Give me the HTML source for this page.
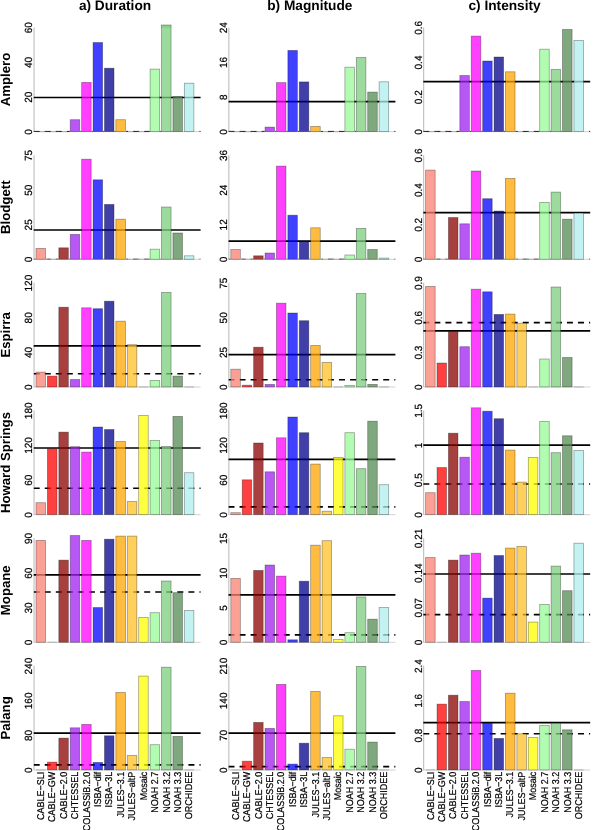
<!DOCTYPE html>
<html><head><meta charset="utf-8"><title>Figure</title>
<style>
html,body{margin:0;padding:0;background:#fff;}
body{width:602px;height:830px;position:relative;overflow:hidden;font-family:"Liberation Sans",sans-serif;}
svg text{font-family:"Liberation Sans",sans-serif;fill:#000;text-rendering:geometricPrecision;}
.t{font-size:9px;stroke:#000;stroke-width:0.2px;}
.y{font-size:10px;stroke:#000;stroke-width:0.2px;}
.r{font-size:13.2px;font-weight:bold;}
.h{font-size:13.7px;font-weight:bold;}
</style></head><body>
<svg width="602" height="830" viewBox="0 0 602 830" style="position:absolute;left:0;top:0;will-change:transform">
<rect width="602" height="830" fill="#fff"/>
<clipPath id="cp00"><rect x="33.55" y="7.50" width="167.55" height="124.55"/></clipPath>
<clipPath id="cp01"><rect x="228.35" y="7.50" width="167.55" height="124.55"/></clipPath>
<clipPath id="cp02"><rect x="423.15" y="7.50" width="167.55" height="124.55"/></clipPath>
<clipPath id="cp10"><rect x="33.55" y="135.17" width="167.55" height="124.55"/></clipPath>
<clipPath id="cp11"><rect x="228.35" y="135.17" width="167.55" height="124.55"/></clipPath>
<clipPath id="cp12"><rect x="423.15" y="135.17" width="167.55" height="124.55"/></clipPath>
<clipPath id="cp20"><rect x="33.55" y="262.84" width="167.55" height="124.55"/></clipPath>
<clipPath id="cp21"><rect x="228.35" y="262.84" width="167.55" height="124.55"/></clipPath>
<clipPath id="cp22"><rect x="423.15" y="262.84" width="167.55" height="124.55"/></clipPath>
<clipPath id="cp30"><rect x="33.55" y="390.51" width="167.55" height="124.55"/></clipPath>
<clipPath id="cp31"><rect x="228.35" y="390.51" width="167.55" height="124.55"/></clipPath>
<clipPath id="cp32"><rect x="423.15" y="390.51" width="167.55" height="124.55"/></clipPath>
<clipPath id="cp40"><rect x="33.55" y="518.18" width="167.55" height="124.55"/></clipPath>
<clipPath id="cp41"><rect x="228.35" y="518.18" width="167.55" height="124.55"/></clipPath>
<clipPath id="cp42"><rect x="423.15" y="518.18" width="167.55" height="124.55"/></clipPath>
<clipPath id="cp50"><rect x="33.55" y="645.85" width="167.55" height="124.55"/></clipPath>
<clipPath id="cp51"><rect x="228.35" y="645.85" width="167.55" height="124.55"/></clipPath>
<clipPath id="cp52"><rect x="423.15" y="645.85" width="167.55" height="124.55"/></clipPath>
<path d="M34.05 27.50V132.00" fill="none" stroke="#bebebe" stroke-width="1.1"/><path d="M34.05 131.65H200.60" fill="none" stroke="#c8c8c8" stroke-width="0.8"/><path d="M36.05 131.60h9.70M47.46 131.60h9.70M58.87 131.60h9.70M127.33 131.60h9.70M138.74 131.60h9.70" fill="none" stroke="#a8a8a8" stroke-width="0.9"/><line x1="33.75" x2="200.60" y1="97.50" y2="97.50" stroke="#000" stroke-width="1.7"/><path d="M33.70 131.40H39.70M44.75 131.40H50.75M55.80 131.40H61.80M66.85 131.40H69.88M80.38 131.40H81.29M91.79 131.40H92.70M103.20 131.40H104.11M114.61 131.40H115.52M126.02 131.40H128.10M133.15 131.40H139.15M144.20 131.40H149.75M160.25 131.40H161.16M171.66 131.40H172.30M199.45 131.40H200.60" stroke="#000" stroke-width="0.9" stroke-opacity="0.9" fill="none"/><rect x="70.23" y="119.70" width="9.55" height="11.90" fill="rgb(160,32,240)" fill-opacity="0.75" stroke="#000" stroke-opacity="0.36" stroke-width="0.8"/><rect x="81.64" y="82.40" width="9.55" height="49.20" fill="rgb(255,0,255)" fill-opacity="0.75" stroke="#000" stroke-opacity="0.36" stroke-width="0.8"/><rect x="93.05" y="42.50" width="9.55" height="89.10" fill="rgb(0,0,255)" fill-opacity="0.75" stroke="#000" stroke-opacity="0.36" stroke-width="0.8"/><rect x="104.46" y="68.20" width="9.55" height="63.40" fill="rgb(0,0,139)" fill-opacity="0.75" stroke="#000" stroke-opacity="0.36" stroke-width="0.8"/><rect x="115.87" y="119.70" width="9.55" height="11.90" fill="rgb(255,165,0)" fill-opacity="0.75" stroke="#000" stroke-opacity="0.36" stroke-width="0.8"/><rect x="150.10" y="69.10" width="9.55" height="62.50" fill="rgb(152,251,152)" fill-opacity="0.75" stroke="#000" stroke-opacity="0.36" stroke-width="0.8"/><rect x="161.51" y="25.00" width="9.55" height="3.20" fill="rgb(110,205,110)" fill-opacity="0.6"/><rect x="161.51" y="25.00" width="9.55" height="106.60" fill="rgb(124,205,124)" fill-opacity="0.75" stroke="#000" stroke-opacity="0.36" stroke-width="0.8"/><rect x="172.92" y="96.50" width="9.55" height="35.10" fill="rgb(84,139,84)" fill-opacity="0.75" stroke="#000" stroke-opacity="0.36" stroke-width="0.8"/><rect x="184.33" y="83.20" width="9.55" height="48.40" fill="rgb(175,238,238)" fill-opacity="0.75" stroke="#000" stroke-opacity="0.36" stroke-width="0.8"/><text transform="translate(32.35 131.90) rotate(-90) scale(1 1.04)" text-anchor="middle" class="y">0</text><text transform="translate(32.35 97.20) rotate(-90) scale(1 1.04)" text-anchor="middle" class="y">20</text><text transform="translate(32.35 62.50) rotate(-90) scale(1 1.04)" text-anchor="middle" class="y">40</text><text transform="translate(32.35 27.80) rotate(-90) scale(1 1.04)" text-anchor="middle" class="y">60</text>
<path d="M228.85 27.50V132.00" fill="none" stroke="#bebebe" stroke-width="1.1"/><path d="M228.85 131.65H395.40" fill="none" stroke="#c8c8c8" stroke-width="0.8"/><path d="M230.85 131.60h9.70M242.26 131.60h9.70M253.67 131.60h9.70M322.13 131.60h9.70M333.54 131.60h9.70" fill="none" stroke="#a8a8a8" stroke-width="0.9"/><line x1="228.55" x2="395.40" y1="101.70" y2="101.70" stroke="#000" stroke-width="1.7"/><path d="M228.50 131.40H234.50M239.55 131.40H245.55M250.60 131.40H256.60M261.65 131.40H264.68M275.18 131.40H276.09M286.59 131.40H287.50M298.00 131.40H298.91M309.41 131.40H310.32M320.82 131.40H322.90M327.95 131.40H333.95M339.00 131.40H344.55M355.05 131.40H355.96M366.46 131.40H367.10M394.25 131.40H395.40" stroke="#000" stroke-width="0.9" stroke-opacity="0.9" fill="none"/><rect x="265.03" y="127.10" width="9.55" height="4.50" fill="rgb(160,32,240)" fill-opacity="0.75" stroke="#000" stroke-opacity="0.36" stroke-width="0.8"/><rect x="276.44" y="82.60" width="9.55" height="49.00" fill="rgb(255,0,255)" fill-opacity="0.75" stroke="#000" stroke-opacity="0.36" stroke-width="0.8"/><rect x="287.85" y="50.40" width="9.55" height="81.20" fill="rgb(0,0,255)" fill-opacity="0.75" stroke="#000" stroke-opacity="0.36" stroke-width="0.8"/><rect x="299.26" y="81.90" width="9.55" height="49.70" fill="rgb(0,0,139)" fill-opacity="0.75" stroke="#000" stroke-opacity="0.36" stroke-width="0.8"/><rect x="310.67" y="126.40" width="9.55" height="5.20" fill="rgb(255,165,0)" fill-opacity="0.75" stroke="#000" stroke-opacity="0.36" stroke-width="0.8"/><rect x="344.90" y="67.20" width="9.55" height="64.40" fill="rgb(152,251,152)" fill-opacity="0.75" stroke="#000" stroke-opacity="0.36" stroke-width="0.8"/><rect x="356.31" y="57.50" width="9.55" height="74.10" fill="rgb(124,205,124)" fill-opacity="0.75" stroke="#000" stroke-opacity="0.36" stroke-width="0.8"/><rect x="367.72" y="92.10" width="9.55" height="39.50" fill="rgb(84,139,84)" fill-opacity="0.75" stroke="#000" stroke-opacity="0.36" stroke-width="0.8"/><rect x="379.13" y="81.80" width="9.55" height="49.80" fill="rgb(175,238,238)" fill-opacity="0.75" stroke="#000" stroke-opacity="0.36" stroke-width="0.8"/><text transform="translate(227.15 131.90) rotate(-90) scale(1 1.04)" text-anchor="middle" class="y">0</text><text transform="translate(227.15 97.20) rotate(-90) scale(1 1.04)" text-anchor="middle" class="y">8</text><text transform="translate(227.15 62.50) rotate(-90) scale(1 1.04)" text-anchor="middle" class="y">16</text><text transform="translate(227.15 27.80) rotate(-90) scale(1 1.04)" text-anchor="middle" class="y">24</text>
<path d="M423.65 27.50V132.00" fill="none" stroke="#bebebe" stroke-width="1.1"/><path d="M423.65 131.65H590.20" fill="none" stroke="#c8c8c8" stroke-width="0.8"/><path d="M425.65 131.60h9.70M437.06 131.60h9.70M448.47 131.60h9.70M516.93 131.60h9.70M528.34 131.60h9.70" fill="none" stroke="#a8a8a8" stroke-width="0.9"/><line x1="423.35" x2="590.20" y1="81.70" y2="81.70" stroke="#000" stroke-width="1.7"/><path d="M423.30 131.40H429.30M434.35 131.40H440.35M445.40 131.40H451.40M456.45 131.40H459.48M469.98 131.40H470.89M481.39 131.40H482.30M492.80 131.40H493.71M504.21 131.40H505.12M515.62 131.40H517.70M522.75 131.40H528.75M533.80 131.40H539.35M549.85 131.40H550.76M561.26 131.40H561.90M589.05 131.40H590.20" stroke="#000" stroke-width="0.9" stroke-opacity="0.9" fill="none"/><rect x="459.83" y="75.50" width="9.55" height="56.10" fill="rgb(160,32,240)" fill-opacity="0.75" stroke="#000" stroke-opacity="0.36" stroke-width="0.8"/><rect x="471.24" y="36.10" width="9.55" height="95.50" fill="rgb(255,0,255)" fill-opacity="0.75" stroke="#000" stroke-opacity="0.36" stroke-width="0.8"/><rect x="482.65" y="61.00" width="9.55" height="70.60" fill="rgb(0,0,255)" fill-opacity="0.75" stroke="#000" stroke-opacity="0.36" stroke-width="0.8"/><rect x="494.06" y="57.00" width="9.55" height="74.60" fill="rgb(0,0,139)" fill-opacity="0.75" stroke="#000" stroke-opacity="0.36" stroke-width="0.8"/><rect x="505.47" y="71.80" width="9.55" height="59.80" fill="rgb(255,165,0)" fill-opacity="0.75" stroke="#000" stroke-opacity="0.36" stroke-width="0.8"/><rect x="539.70" y="49.20" width="9.55" height="82.40" fill="rgb(152,251,152)" fill-opacity="0.75" stroke="#000" stroke-opacity="0.36" stroke-width="0.8"/><rect x="551.11" y="69.50" width="9.55" height="62.10" fill="rgb(124,205,124)" fill-opacity="0.75" stroke="#000" stroke-opacity="0.36" stroke-width="0.8"/><rect x="562.52" y="29.50" width="9.55" height="102.10" fill="rgb(84,139,84)" fill-opacity="0.75" stroke="#000" stroke-opacity="0.36" stroke-width="0.8"/><rect x="573.93" y="40.40" width="9.55" height="91.20" fill="rgb(175,238,238)" fill-opacity="0.75" stroke="#000" stroke-opacity="0.36" stroke-width="0.8"/><text transform="translate(421.95 131.90) rotate(-90) scale(1 1.04)" text-anchor="middle" class="y">0</text><text transform="translate(421.95 97.20) rotate(-90) scale(1 1.04)" text-anchor="middle" class="y">0.2</text><text transform="translate(421.95 62.50) rotate(-90) scale(1 1.04)" text-anchor="middle" class="y">0.4</text><text transform="translate(421.95 27.80) rotate(-90) scale(1 1.04)" text-anchor="middle" class="y">0.6</text>
<path d="M34.05 155.17V259.67" fill="none" stroke="#bebebe" stroke-width="1.1"/><path d="M34.05 259.32H200.60" fill="none" stroke="#c8c8c8" stroke-width="0.8"/><path d="M47.46 259.27h9.70M127.33 259.27h9.70M138.74 259.27h9.70" fill="none" stroke="#a8a8a8" stroke-width="0.9"/><line x1="33.75" x2="200.60" y1="230.00" y2="230.00" stroke="#000" stroke-width="1.7"/><path d="M33.70 259.07H35.65M46.15 259.07H50.75M55.80 259.07H58.47M68.97 259.07H69.88M80.38 259.07H81.29M91.79 259.07H92.70M103.20 259.07H104.11M114.61 259.07H115.52M126.02 259.07H128.10M133.15 259.07H139.15M144.20 259.07H149.75M160.25 259.07H161.16M171.66 259.07H172.30M199.45 259.07H200.60" stroke="#000" stroke-width="0.9" stroke-opacity="0.55" fill="none"/><rect x="36.00" y="248.40" width="9.55" height="10.87" fill="rgb(250,128,114)" fill-opacity="0.75" stroke="#000" stroke-opacity="0.36" stroke-width="0.8"/><rect x="58.82" y="247.80" width="9.55" height="11.47" fill="rgb(139,0,0)" fill-opacity="0.75" stroke="#000" stroke-opacity="0.36" stroke-width="0.8"/><rect x="70.23" y="234.40" width="9.55" height="24.87" fill="rgb(160,32,240)" fill-opacity="0.75" stroke="#000" stroke-opacity="0.36" stroke-width="0.8"/><rect x="81.64" y="159.20" width="9.55" height="100.07" fill="rgb(255,0,255)" fill-opacity="0.75" stroke="#000" stroke-opacity="0.36" stroke-width="0.8"/><rect x="93.05" y="179.80" width="9.55" height="79.47" fill="rgb(0,0,255)" fill-opacity="0.75" stroke="#000" stroke-opacity="0.36" stroke-width="0.8"/><rect x="104.46" y="204.40" width="9.55" height="54.87" fill="rgb(0,0,139)" fill-opacity="0.75" stroke="#000" stroke-opacity="0.36" stroke-width="0.8"/><rect x="115.87" y="219.20" width="9.55" height="40.07" fill="rgb(255,165,0)" fill-opacity="0.75" stroke="#000" stroke-opacity="0.36" stroke-width="0.8"/><rect x="150.10" y="249.20" width="9.55" height="10.07" fill="rgb(152,251,152)" fill-opacity="0.75" stroke="#000" stroke-opacity="0.36" stroke-width="0.8"/><rect x="161.51" y="207.00" width="9.55" height="52.27" fill="rgb(124,205,124)" fill-opacity="0.75" stroke="#000" stroke-opacity="0.36" stroke-width="0.8"/><rect x="172.92" y="233.00" width="9.55" height="26.27" fill="rgb(84,139,84)" fill-opacity="0.75" stroke="#000" stroke-opacity="0.36" stroke-width="0.8"/><rect x="184.33" y="255.80" width="9.55" height="3.47" fill="rgb(175,238,238)" fill-opacity="0.75" stroke="#000" stroke-opacity="0.36" stroke-width="0.8"/><text transform="translate(32.35 259.57) rotate(-90) scale(1 1.04)" text-anchor="middle" class="y">0</text><text transform="translate(32.35 224.87) rotate(-90) scale(1 1.04)" text-anchor="middle" class="y">25</text><text transform="translate(32.35 190.17) rotate(-90) scale(1 1.04)" text-anchor="middle" class="y">50</text><text transform="translate(32.35 155.47) rotate(-90) scale(1 1.04)" text-anchor="middle" class="y">75</text>
<path d="M228.85 155.17V259.67" fill="none" stroke="#bebebe" stroke-width="1.1"/><path d="M228.85 259.32H395.40" fill="none" stroke="#c8c8c8" stroke-width="0.8"/><path d="M242.26 259.27h9.70M322.13 259.27h9.70M333.54 259.27h9.70" fill="none" stroke="#a8a8a8" stroke-width="0.9"/><line x1="228.55" x2="395.40" y1="241.10" y2="241.10" stroke="#000" stroke-width="1.7"/><path d="M228.50 259.07H230.45M240.95 259.07H245.55M250.60 259.07H253.27M263.77 259.07H264.68M275.18 259.07H276.09M286.59 259.07H287.50M298.00 259.07H298.91M309.41 259.07H310.32M320.82 259.07H322.90M327.95 259.07H333.95M339.00 259.07H344.55M355.05 259.07H355.96M366.46 259.07H367.10M394.25 259.07H395.40" stroke="#000" stroke-width="0.9" stroke-opacity="0.55" fill="none"/><rect x="230.80" y="249.50" width="9.55" height="9.77" fill="rgb(250,128,114)" fill-opacity="0.75" stroke="#000" stroke-opacity="0.36" stroke-width="0.8"/><rect x="253.62" y="255.80" width="9.55" height="3.47" fill="rgb(139,0,0)" fill-opacity="0.75" stroke="#000" stroke-opacity="0.36" stroke-width="0.8"/><rect x="265.03" y="253.00" width="9.55" height="6.27" fill="rgb(160,32,240)" fill-opacity="0.75" stroke="#000" stroke-opacity="0.36" stroke-width="0.8"/><rect x="276.44" y="166.10" width="9.55" height="93.17" fill="rgb(255,0,255)" fill-opacity="0.75" stroke="#000" stroke-opacity="0.36" stroke-width="0.8"/><rect x="287.85" y="215.20" width="9.55" height="44.07" fill="rgb(0,0,255)" fill-opacity="0.75" stroke="#000" stroke-opacity="0.36" stroke-width="0.8"/><rect x="299.26" y="241.20" width="9.55" height="18.07" fill="rgb(0,0,139)" fill-opacity="0.75" stroke="#000" stroke-opacity="0.36" stroke-width="0.8"/><rect x="310.67" y="227.80" width="9.55" height="31.47" fill="rgb(255,165,0)" fill-opacity="0.75" stroke="#000" stroke-opacity="0.36" stroke-width="0.8"/><rect x="344.90" y="255.00" width="9.55" height="4.27" fill="rgb(152,251,152)" fill-opacity="0.75" stroke="#000" stroke-opacity="0.36" stroke-width="0.8"/><rect x="356.31" y="228.40" width="9.55" height="30.87" fill="rgb(124,205,124)" fill-opacity="0.75" stroke="#000" stroke-opacity="0.36" stroke-width="0.8"/><rect x="367.72" y="249.50" width="9.55" height="9.77" fill="rgb(84,139,84)" fill-opacity="0.75" stroke="#000" stroke-opacity="0.36" stroke-width="0.8"/><rect x="379.13" y="258.10" width="9.55" height="1.17" fill="rgb(175,238,238)" fill-opacity="0.75" stroke="#000" stroke-opacity="0.36" stroke-width="0.8"/><text transform="translate(227.15 259.57) rotate(-90) scale(1 1.04)" text-anchor="middle" class="y">0</text><text transform="translate(227.15 224.87) rotate(-90) scale(1 1.04)" text-anchor="middle" class="y">12</text><text transform="translate(227.15 190.17) rotate(-90) scale(1 1.04)" text-anchor="middle" class="y">24</text><text transform="translate(227.15 155.47) rotate(-90) scale(1 1.04)" text-anchor="middle" class="y">36</text>
<path d="M423.65 155.17V259.67" fill="none" stroke="#bebebe" stroke-width="1.1"/><path d="M423.65 259.32H590.20" fill="none" stroke="#c8c8c8" stroke-width="0.8"/><path d="M437.06 259.27h9.70M516.93 259.27h9.70M528.34 259.27h9.70" fill="none" stroke="#a8a8a8" stroke-width="0.9"/><line x1="423.35" x2="590.20" y1="212.60" y2="212.60" stroke="#000" stroke-width="1.7"/><path d="M423.30 259.07H425.25M435.75 259.07H440.35M445.40 259.07H448.07M458.57 259.07H459.48M469.98 259.07H470.89M481.39 259.07H482.30M492.80 259.07H493.71M504.21 259.07H505.12M515.62 259.07H517.70M522.75 259.07H528.75M533.80 259.07H539.35M549.85 259.07H550.76M561.26 259.07H561.90M589.05 259.07H590.20" stroke="#000" stroke-width="0.9" stroke-opacity="0.55" fill="none"/><rect x="425.60" y="170.10" width="9.55" height="89.17" fill="rgb(250,128,114)" fill-opacity="0.75" stroke="#000" stroke-opacity="0.36" stroke-width="0.8"/><rect x="448.42" y="217.50" width="9.55" height="41.77" fill="rgb(139,0,0)" fill-opacity="0.75" stroke="#000" stroke-opacity="0.36" stroke-width="0.8"/><rect x="459.83" y="223.80" width="9.55" height="35.47" fill="rgb(160,32,240)" fill-opacity="0.75" stroke="#000" stroke-opacity="0.36" stroke-width="0.8"/><rect x="471.24" y="171.00" width="9.55" height="88.27" fill="rgb(255,0,255)" fill-opacity="0.75" stroke="#000" stroke-opacity="0.36" stroke-width="0.8"/><rect x="482.65" y="198.70" width="9.55" height="60.57" fill="rgb(0,0,255)" fill-opacity="0.75" stroke="#000" stroke-opacity="0.36" stroke-width="0.8"/><rect x="494.06" y="211.00" width="9.55" height="48.27" fill="rgb(0,0,139)" fill-opacity="0.75" stroke="#000" stroke-opacity="0.36" stroke-width="0.8"/><rect x="505.47" y="178.40" width="9.55" height="80.87" fill="rgb(255,165,0)" fill-opacity="0.75" stroke="#000" stroke-opacity="0.36" stroke-width="0.8"/><rect x="539.70" y="202.40" width="9.55" height="56.87" fill="rgb(152,251,152)" fill-opacity="0.75" stroke="#000" stroke-opacity="0.36" stroke-width="0.8"/><rect x="551.11" y="192.10" width="9.55" height="67.17" fill="rgb(124,205,124)" fill-opacity="0.75" stroke="#000" stroke-opacity="0.36" stroke-width="0.8"/><rect x="562.52" y="219.20" width="9.55" height="40.07" fill="rgb(84,139,84)" fill-opacity="0.75" stroke="#000" stroke-opacity="0.36" stroke-width="0.8"/><rect x="573.93" y="213.00" width="9.55" height="46.27" fill="rgb(175,238,238)" fill-opacity="0.75" stroke="#000" stroke-opacity="0.36" stroke-width="0.8"/><text transform="translate(421.95 259.57) rotate(-90) scale(1 1.04)" text-anchor="middle" class="y">0</text><text transform="translate(421.95 224.87) rotate(-90) scale(1 1.04)" text-anchor="middle" class="y">0.2</text><text transform="translate(421.95 190.17) rotate(-90) scale(1 1.04)" text-anchor="middle" class="y">0.4</text><text transform="translate(421.95 155.47) rotate(-90) scale(1 1.04)" text-anchor="middle" class="y">0.6</text>
<path d="M34.05 282.84V387.34" fill="none" stroke="#bebebe" stroke-width="1.1"/><path d="M34.05 386.99H200.60" fill="none" stroke="#c8c8c8" stroke-width="0.8"/><path d="M138.74 386.94h9.70M184.38 386.94h9.70" fill="none" stroke="#a8a8a8" stroke-width="0.9"/><line x1="33.75" x2="200.60" y1="345.90" y2="345.90" stroke="#000" stroke-width="1.7"/><line x1="33.70" x2="200.60" y1="373.70" y2="373.70" stroke="#000" stroke-width="1.6" stroke-dasharray="6 5.05" clip-path="url(#cp20)"/><rect x="36.00" y="372.10" width="9.55" height="14.84" fill="rgb(250,128,114)" fill-opacity="0.75" stroke="#000" stroke-opacity="0.36" stroke-width="0.8"/><rect x="47.41" y="376.10" width="9.55" height="10.84" fill="rgb(255,0,0)" fill-opacity="0.75" stroke="#000" stroke-opacity="0.36" stroke-width="0.8"/><rect x="58.82" y="307.20" width="9.55" height="79.74" fill="rgb(139,0,0)" fill-opacity="0.75" stroke="#000" stroke-opacity="0.36" stroke-width="0.8"/><rect x="70.23" y="379.50" width="9.55" height="7.44" fill="rgb(160,32,240)" fill-opacity="0.75" stroke="#000" stroke-opacity="0.36" stroke-width="0.8"/><rect x="81.64" y="307.80" width="9.55" height="79.14" fill="rgb(255,0,255)" fill-opacity="0.75" stroke="#000" stroke-opacity="0.36" stroke-width="0.8"/><rect x="93.05" y="308.70" width="9.55" height="78.24" fill="rgb(0,0,255)" fill-opacity="0.75" stroke="#000" stroke-opacity="0.36" stroke-width="0.8"/><rect x="104.46" y="301.20" width="9.55" height="85.74" fill="rgb(0,0,139)" fill-opacity="0.75" stroke="#000" stroke-opacity="0.36" stroke-width="0.8"/><rect x="115.87" y="321.20" width="9.55" height="65.74" fill="rgb(255,165,0)" fill-opacity="0.75" stroke="#000" stroke-opacity="0.36" stroke-width="0.8"/><rect x="127.28" y="344.70" width="9.55" height="42.24" fill="rgb(255,193,37)" fill-opacity="0.75" stroke="#000" stroke-opacity="0.36" stroke-width="0.8"/><rect x="150.10" y="380.40" width="9.55" height="6.54" fill="rgb(152,251,152)" fill-opacity="0.75" stroke="#000" stroke-opacity="0.36" stroke-width="0.8"/><rect x="161.51" y="292.40" width="9.55" height="94.54" fill="rgb(124,205,124)" fill-opacity="0.75" stroke="#000" stroke-opacity="0.36" stroke-width="0.8"/><rect x="172.92" y="376.10" width="9.55" height="10.84" fill="rgb(84,139,84)" fill-opacity="0.75" stroke="#000" stroke-opacity="0.36" stroke-width="0.8"/><text transform="translate(32.35 387.24) rotate(-90) scale(1 1.04)" text-anchor="middle" class="y">0</text><text transform="translate(32.35 352.54) rotate(-90) scale(1 1.04)" text-anchor="middle" class="y">40</text><text transform="translate(32.35 317.84) rotate(-90) scale(1 1.04)" text-anchor="middle" class="y">80</text><text transform="translate(32.35 283.14) rotate(-90) scale(1 1.04)" text-anchor="middle" class="y">120</text>
<path d="M228.85 282.84V387.34" fill="none" stroke="#bebebe" stroke-width="1.1"/><path d="M228.85 386.99H395.40" fill="none" stroke="#c8c8c8" stroke-width="0.8"/><path d="M333.54 386.94h9.70M379.18 386.94h9.70" fill="none" stroke="#a8a8a8" stroke-width="0.9"/><line x1="228.55" x2="395.40" y1="354.60" y2="354.60" stroke="#000" stroke-width="1.7"/><line x1="228.50" x2="395.40" y1="379.70" y2="379.70" stroke="#000" stroke-width="1.6" stroke-dasharray="6 5.05" clip-path="url(#cp21)"/><rect x="230.80" y="369.20" width="9.55" height="17.74" fill="rgb(250,128,114)" fill-opacity="0.75" stroke="#000" stroke-opacity="0.36" stroke-width="0.8"/><rect x="242.21" y="385.20" width="9.55" height="1.74" fill="rgb(255,0,0)" fill-opacity="0.75" stroke="#000" stroke-opacity="0.36" stroke-width="0.8"/><rect x="253.62" y="347.20" width="9.55" height="39.74" fill="rgb(139,0,0)" fill-opacity="0.75" stroke="#000" stroke-opacity="0.36" stroke-width="0.8"/><rect x="265.03" y="384.40" width="9.55" height="2.54" fill="rgb(160,32,240)" fill-opacity="0.75" stroke="#000" stroke-opacity="0.36" stroke-width="0.8"/><rect x="276.44" y="303.20" width="9.55" height="83.74" fill="rgb(255,0,255)" fill-opacity="0.75" stroke="#000" stroke-opacity="0.36" stroke-width="0.8"/><rect x="287.85" y="313.00" width="9.55" height="73.94" fill="rgb(0,0,255)" fill-opacity="0.75" stroke="#000" stroke-opacity="0.36" stroke-width="0.8"/><rect x="299.26" y="320.70" width="9.55" height="66.24" fill="rgb(0,0,139)" fill-opacity="0.75" stroke="#000" stroke-opacity="0.36" stroke-width="0.8"/><rect x="310.67" y="345.50" width="9.55" height="41.44" fill="rgb(255,165,0)" fill-opacity="0.75" stroke="#000" stroke-opacity="0.36" stroke-width="0.8"/><rect x="322.08" y="362.40" width="9.55" height="24.54" fill="rgb(255,193,37)" fill-opacity="0.75" stroke="#000" stroke-opacity="0.36" stroke-width="0.8"/><rect x="344.90" y="385.50" width="9.55" height="1.44" fill="rgb(152,251,152)" fill-opacity="0.75" stroke="#000" stroke-opacity="0.36" stroke-width="0.8"/><rect x="356.31" y="293.50" width="9.55" height="93.44" fill="rgb(124,205,124)" fill-opacity="0.75" stroke="#000" stroke-opacity="0.36" stroke-width="0.8"/><rect x="367.72" y="384.40" width="9.55" height="2.54" fill="rgb(84,139,84)" fill-opacity="0.75" stroke="#000" stroke-opacity="0.36" stroke-width="0.8"/><text transform="translate(227.15 387.24) rotate(-90) scale(1 1.04)" text-anchor="middle" class="y">0</text><text transform="translate(227.15 352.54) rotate(-90) scale(1 1.04)" text-anchor="middle" class="y">25</text><text transform="translate(227.15 317.84) rotate(-90) scale(1 1.04)" text-anchor="middle" class="y">50</text><text transform="translate(227.15 283.14) rotate(-90) scale(1 1.04)" text-anchor="middle" class="y">75</text>
<path d="M423.65 282.84V387.34" fill="none" stroke="#bebebe" stroke-width="1.1"/><path d="M423.65 386.99H590.20" fill="none" stroke="#c8c8c8" stroke-width="0.8"/><path d="M528.34 386.94h9.70M573.98 386.94h9.70" fill="none" stroke="#a8a8a8" stroke-width="0.9"/><line x1="423.35" x2="590.20" y1="330.90" y2="330.90" stroke="#000" stroke-width="1.7"/><line x1="423.30" x2="590.20" y1="322.60" y2="322.60" stroke="#000" stroke-width="1.6" stroke-dasharray="6 5.05" clip-path="url(#cp22)"/><rect x="425.60" y="286.40" width="9.55" height="100.54" fill="rgb(250,128,114)" fill-opacity="0.75" stroke="#000" stroke-opacity="0.36" stroke-width="0.8"/><rect x="437.01" y="363.00" width="9.55" height="23.94" fill="rgb(255,0,0)" fill-opacity="0.75" stroke="#000" stroke-opacity="0.36" stroke-width="0.8"/><rect x="448.42" y="331.20" width="9.55" height="55.74" fill="rgb(139,0,0)" fill-opacity="0.75" stroke="#000" stroke-opacity="0.36" stroke-width="0.8"/><rect x="459.83" y="346.70" width="9.55" height="40.24" fill="rgb(160,32,240)" fill-opacity="0.75" stroke="#000" stroke-opacity="0.36" stroke-width="0.8"/><rect x="471.24" y="289.20" width="9.55" height="97.74" fill="rgb(255,0,255)" fill-opacity="0.75" stroke="#000" stroke-opacity="0.36" stroke-width="0.8"/><rect x="482.65" y="291.80" width="9.55" height="95.14" fill="rgb(0,0,255)" fill-opacity="0.75" stroke="#000" stroke-opacity="0.36" stroke-width="0.8"/><rect x="494.06" y="314.40" width="9.55" height="72.54" fill="rgb(0,0,139)" fill-opacity="0.75" stroke="#000" stroke-opacity="0.36" stroke-width="0.8"/><rect x="505.47" y="314.10" width="9.55" height="72.84" fill="rgb(255,165,0)" fill-opacity="0.75" stroke="#000" stroke-opacity="0.36" stroke-width="0.8"/><rect x="516.88" y="323.20" width="9.55" height="63.74" fill="rgb(255,193,37)" fill-opacity="0.75" stroke="#000" stroke-opacity="0.36" stroke-width="0.8"/><rect x="539.70" y="359.00" width="9.55" height="27.94" fill="rgb(152,251,152)" fill-opacity="0.75" stroke="#000" stroke-opacity="0.36" stroke-width="0.8"/><rect x="551.11" y="287.00" width="9.55" height="99.94" fill="rgb(124,205,124)" fill-opacity="0.75" stroke="#000" stroke-opacity="0.36" stroke-width="0.8"/><rect x="562.52" y="357.50" width="9.55" height="29.44" fill="rgb(84,139,84)" fill-opacity="0.75" stroke="#000" stroke-opacity="0.36" stroke-width="0.8"/><text transform="translate(421.95 387.24) rotate(-90) scale(1 1.04)" text-anchor="middle" class="y">0</text><text transform="translate(421.95 352.54) rotate(-90) scale(1 1.04)" text-anchor="middle" class="y">0.3</text><text transform="translate(421.95 317.84) rotate(-90) scale(1 1.04)" text-anchor="middle" class="y">0.6</text><text transform="translate(421.95 283.14) rotate(-90) scale(1 1.04)" text-anchor="middle" class="y">0.9</text>
<path d="M34.05 410.51V515.01" fill="none" stroke="#bebebe" stroke-width="1.1"/><path d="M34.05 514.66H200.60" fill="none" stroke="#c8c8c8" stroke-width="0.8"/><line x1="33.75" x2="200.60" y1="448.00" y2="448.00" stroke="#000" stroke-width="1.7"/><line x1="33.70" x2="200.60" y1="488.30" y2="488.30" stroke="#000" stroke-width="1.6" stroke-dasharray="6 5.05" clip-path="url(#cp30)"/><rect x="36.00" y="502.70" width="9.55" height="11.91" fill="rgb(250,128,114)" fill-opacity="0.75" stroke="#000" stroke-opacity="0.36" stroke-width="0.8"/><rect x="47.41" y="448.70" width="9.55" height="65.91" fill="rgb(255,0,0)" fill-opacity="0.75" stroke="#000" stroke-opacity="0.36" stroke-width="0.8"/><rect x="58.82" y="432.10" width="9.55" height="82.51" fill="rgb(139,0,0)" fill-opacity="0.75" stroke="#000" stroke-opacity="0.36" stroke-width="0.8"/><rect x="70.23" y="446.70" width="9.55" height="67.91" fill="rgb(160,32,240)" fill-opacity="0.75" stroke="#000" stroke-opacity="0.36" stroke-width="0.8"/><rect x="81.64" y="452.10" width="9.55" height="62.51" fill="rgb(255,0,255)" fill-opacity="0.75" stroke="#000" stroke-opacity="0.36" stroke-width="0.8"/><rect x="93.05" y="427.00" width="9.55" height="87.61" fill="rgb(0,0,255)" fill-opacity="0.75" stroke="#000" stroke-opacity="0.36" stroke-width="0.8"/><rect x="104.46" y="429.50" width="9.55" height="85.11" fill="rgb(0,0,139)" fill-opacity="0.75" stroke="#000" stroke-opacity="0.36" stroke-width="0.8"/><rect x="115.87" y="441.50" width="9.55" height="73.11" fill="rgb(255,165,0)" fill-opacity="0.75" stroke="#000" stroke-opacity="0.36" stroke-width="0.8"/><rect x="127.28" y="501.50" width="9.55" height="13.11" fill="rgb(255,193,37)" fill-opacity="0.75" stroke="#000" stroke-opacity="0.36" stroke-width="0.8"/><rect x="138.69" y="415.50" width="9.55" height="99.11" fill="rgb(255,255,0)" fill-opacity="0.75" stroke="#000" stroke-opacity="0.36" stroke-width="0.8"/><rect x="150.10" y="440.40" width="9.55" height="74.21" fill="rgb(152,251,152)" fill-opacity="0.75" stroke="#000" stroke-opacity="0.36" stroke-width="0.8"/><rect x="161.51" y="446.40" width="9.55" height="68.21" fill="rgb(124,205,124)" fill-opacity="0.75" stroke="#000" stroke-opacity="0.36" stroke-width="0.8"/><rect x="172.92" y="416.40" width="9.55" height="98.21" fill="rgb(84,139,84)" fill-opacity="0.75" stroke="#000" stroke-opacity="0.36" stroke-width="0.8"/><rect x="184.33" y="472.70" width="9.55" height="41.91" fill="rgb(175,238,238)" fill-opacity="0.75" stroke="#000" stroke-opacity="0.36" stroke-width="0.8"/><text transform="translate(32.35 514.91) rotate(-90) scale(1 1.04)" text-anchor="middle" class="y">0</text><text transform="translate(32.35 480.21) rotate(-90) scale(1 1.04)" text-anchor="middle" class="y">60</text><text transform="translate(32.35 445.51) rotate(-90) scale(1 1.04)" text-anchor="middle" class="y">120</text><text transform="translate(32.35 410.81) rotate(-90) scale(1 1.04)" text-anchor="middle" class="y">180</text>
<path d="M228.85 410.51V515.01" fill="none" stroke="#bebebe" stroke-width="1.1"/><path d="M228.85 514.66H395.40" fill="none" stroke="#c8c8c8" stroke-width="0.8"/><line x1="228.55" x2="395.40" y1="459.40" y2="459.40" stroke="#000" stroke-width="1.7"/><line x1="228.50" x2="395.40" y1="506.90" y2="506.90" stroke="#000" stroke-width="1.6" stroke-dasharray="6 5.05" clip-path="url(#cp31)"/><rect x="230.80" y="512.70" width="9.55" height="1.91" fill="rgb(250,128,114)" fill-opacity="0.75" stroke="#000" stroke-opacity="0.36" stroke-width="0.8"/><rect x="242.21" y="479.80" width="9.55" height="34.81" fill="rgb(255,0,0)" fill-opacity="0.75" stroke="#000" stroke-opacity="0.36" stroke-width="0.8"/><rect x="253.62" y="443.00" width="9.55" height="71.61" fill="rgb(139,0,0)" fill-opacity="0.75" stroke="#000" stroke-opacity="0.36" stroke-width="0.8"/><rect x="265.03" y="471.80" width="9.55" height="42.81" fill="rgb(160,32,240)" fill-opacity="0.75" stroke="#000" stroke-opacity="0.36" stroke-width="0.8"/><rect x="276.44" y="437.80" width="9.55" height="76.81" fill="rgb(255,0,255)" fill-opacity="0.75" stroke="#000" stroke-opacity="0.36" stroke-width="0.8"/><rect x="287.85" y="417.00" width="9.55" height="97.61" fill="rgb(0,0,255)" fill-opacity="0.75" stroke="#000" stroke-opacity="0.36" stroke-width="0.8"/><rect x="299.26" y="432.70" width="9.55" height="81.91" fill="rgb(0,0,139)" fill-opacity="0.75" stroke="#000" stroke-opacity="0.36" stroke-width="0.8"/><rect x="310.67" y="464.10" width="9.55" height="50.51" fill="rgb(255,165,0)" fill-opacity="0.75" stroke="#000" stroke-opacity="0.36" stroke-width="0.8"/><rect x="322.08" y="511.20" width="9.55" height="3.41" fill="rgb(255,193,37)" fill-opacity="0.75" stroke="#000" stroke-opacity="0.36" stroke-width="0.8"/><rect x="333.49" y="457.50" width="9.55" height="57.11" fill="rgb(255,255,0)" fill-opacity="0.75" stroke="#000" stroke-opacity="0.36" stroke-width="0.8"/><rect x="344.90" y="432.70" width="9.55" height="81.91" fill="rgb(152,251,152)" fill-opacity="0.75" stroke="#000" stroke-opacity="0.36" stroke-width="0.8"/><rect x="356.31" y="468.70" width="9.55" height="45.91" fill="rgb(124,205,124)" fill-opacity="0.75" stroke="#000" stroke-opacity="0.36" stroke-width="0.8"/><rect x="367.72" y="421.20" width="9.55" height="93.41" fill="rgb(84,139,84)" fill-opacity="0.75" stroke="#000" stroke-opacity="0.36" stroke-width="0.8"/><rect x="379.13" y="484.70" width="9.55" height="29.91" fill="rgb(175,238,238)" fill-opacity="0.75" stroke="#000" stroke-opacity="0.36" stroke-width="0.8"/><text transform="translate(227.15 514.91) rotate(-90) scale(1 1.04)" text-anchor="middle" class="y">0</text><text transform="translate(227.15 480.21) rotate(-90) scale(1 1.04)" text-anchor="middle" class="y">60</text><text transform="translate(227.15 445.51) rotate(-90) scale(1 1.04)" text-anchor="middle" class="y">120</text><text transform="translate(227.15 410.81) rotate(-90) scale(1 1.04)" text-anchor="middle" class="y">180</text>
<path d="M423.65 410.51V515.01" fill="none" stroke="#bebebe" stroke-width="1.1"/><path d="M423.65 514.66H590.20" fill="none" stroke="#c8c8c8" stroke-width="0.8"/><line x1="423.35" x2="590.20" y1="445.10" y2="445.10" stroke="#000" stroke-width="1.7"/><line x1="423.30" x2="590.20" y1="484.00" y2="484.00" stroke="#000" stroke-width="1.6" stroke-dasharray="6 5.05" clip-path="url(#cp32)"/><rect x="425.60" y="492.70" width="9.55" height="21.91" fill="rgb(250,128,114)" fill-opacity="0.75" stroke="#000" stroke-opacity="0.36" stroke-width="0.8"/><rect x="437.01" y="467.50" width="9.55" height="47.11" fill="rgb(255,0,0)" fill-opacity="0.75" stroke="#000" stroke-opacity="0.36" stroke-width="0.8"/><rect x="448.42" y="433.20" width="9.55" height="81.41" fill="rgb(139,0,0)" fill-opacity="0.75" stroke="#000" stroke-opacity="0.36" stroke-width="0.8"/><rect x="459.83" y="457.20" width="9.55" height="57.41" fill="rgb(160,32,240)" fill-opacity="0.75" stroke="#000" stroke-opacity="0.36" stroke-width="0.8"/><rect x="471.24" y="407.80" width="9.55" height="106.81" fill="rgb(255,0,255)" fill-opacity="0.75" stroke="#000" stroke-opacity="0.36" stroke-width="0.8"/><rect x="482.65" y="411.20" width="9.55" height="103.41" fill="rgb(0,0,255)" fill-opacity="0.75" stroke="#000" stroke-opacity="0.36" stroke-width="0.8"/><rect x="494.06" y="418.70" width="9.55" height="95.91" fill="rgb(0,0,139)" fill-opacity="0.75" stroke="#000" stroke-opacity="0.36" stroke-width="0.8"/><rect x="505.47" y="450.10" width="9.55" height="64.51" fill="rgb(255,165,0)" fill-opacity="0.75" stroke="#000" stroke-opacity="0.36" stroke-width="0.8"/><rect x="516.88" y="482.10" width="9.55" height="32.51" fill="rgb(255,193,37)" fill-opacity="0.75" stroke="#000" stroke-opacity="0.36" stroke-width="0.8"/><rect x="528.29" y="457.50" width="9.55" height="57.11" fill="rgb(255,255,0)" fill-opacity="0.75" stroke="#000" stroke-opacity="0.36" stroke-width="0.8"/><rect x="539.70" y="421.50" width="9.55" height="93.11" fill="rgb(152,251,152)" fill-opacity="0.75" stroke="#000" stroke-opacity="0.36" stroke-width="0.8"/><rect x="551.11" y="452.70" width="9.55" height="61.91" fill="rgb(124,205,124)" fill-opacity="0.75" stroke="#000" stroke-opacity="0.36" stroke-width="0.8"/><rect x="562.52" y="435.80" width="9.55" height="78.81" fill="rgb(84,139,84)" fill-opacity="0.75" stroke="#000" stroke-opacity="0.36" stroke-width="0.8"/><rect x="573.93" y="450.40" width="9.55" height="64.21" fill="rgb(175,238,238)" fill-opacity="0.75" stroke="#000" stroke-opacity="0.36" stroke-width="0.8"/><text transform="translate(421.95 514.91) rotate(-90) scale(1 1.04)" text-anchor="middle" class="y">0</text><text transform="translate(421.95 480.21) rotate(-90) scale(1 1.04)" text-anchor="middle" class="y">0.5</text><text transform="translate(421.95 445.51) rotate(-90) scale(1 1.04)" text-anchor="middle" class="y">1</text><text transform="translate(421.95 410.81) rotate(-90) scale(1 1.04)" text-anchor="middle" class="y">1.5</text>
<path d="M34.05 538.18V642.68" fill="none" stroke="#bebebe" stroke-width="1.1"/><path d="M34.05 642.33H200.60" fill="none" stroke="#c8c8c8" stroke-width="0.8"/><path d="M47.46 642.28h9.70" fill="none" stroke="#a8a8a8" stroke-width="0.9"/><line x1="33.75" x2="200.60" y1="574.90" y2="574.90" stroke="#000" stroke-width="1.7"/><line x1="33.70" x2="200.60" y1="592.00" y2="592.00" stroke="#000" stroke-width="1.6" stroke-dasharray="6 5.05" clip-path="url(#cp40)"/><rect x="36.00" y="540.40" width="9.55" height="101.88" fill="rgb(250,128,114)" fill-opacity="0.75" stroke="#000" stroke-opacity="0.36" stroke-width="0.8"/><rect x="58.82" y="560.10" width="9.55" height="82.18" fill="rgb(139,0,0)" fill-opacity="0.75" stroke="#000" stroke-opacity="0.36" stroke-width="0.8"/><rect x="70.23" y="535.50" width="9.55" height="106.78" fill="rgb(160,32,240)" fill-opacity="0.75" stroke="#000" stroke-opacity="0.36" stroke-width="0.8"/><rect x="81.64" y="540.40" width="9.55" height="101.88" fill="rgb(255,0,255)" fill-opacity="0.75" stroke="#000" stroke-opacity="0.36" stroke-width="0.8"/><rect x="93.05" y="607.50" width="9.55" height="34.78" fill="rgb(0,0,255)" fill-opacity="0.75" stroke="#000" stroke-opacity="0.36" stroke-width="0.8"/><rect x="104.46" y="539.20" width="9.55" height="103.08" fill="rgb(0,0,139)" fill-opacity="0.75" stroke="#000" stroke-opacity="0.36" stroke-width="0.8"/><rect x="115.87" y="536.10" width="9.55" height="106.18" fill="rgb(255,165,0)" fill-opacity="0.75" stroke="#000" stroke-opacity="0.36" stroke-width="0.8"/><rect x="127.28" y="536.10" width="9.55" height="106.18" fill="rgb(255,193,37)" fill-opacity="0.75" stroke="#000" stroke-opacity="0.36" stroke-width="0.8"/><rect x="138.69" y="617.50" width="9.55" height="24.78" fill="rgb(255,255,0)" fill-opacity="0.75" stroke="#000" stroke-opacity="0.36" stroke-width="0.8"/><rect x="150.10" y="612.70" width="9.55" height="29.58" fill="rgb(152,251,152)" fill-opacity="0.75" stroke="#000" stroke-opacity="0.36" stroke-width="0.8"/><rect x="161.51" y="581.00" width="9.55" height="61.28" fill="rgb(124,205,124)" fill-opacity="0.75" stroke="#000" stroke-opacity="0.36" stroke-width="0.8"/><rect x="172.92" y="592.70" width="9.55" height="49.58" fill="rgb(84,139,84)" fill-opacity="0.75" stroke="#000" stroke-opacity="0.36" stroke-width="0.8"/><rect x="184.33" y="610.40" width="9.55" height="31.88" fill="rgb(175,238,238)" fill-opacity="0.75" stroke="#000" stroke-opacity="0.36" stroke-width="0.8"/><text transform="translate(32.35 642.58) rotate(-90) scale(1 1.04)" text-anchor="middle" class="y">0</text><text transform="translate(32.35 607.88) rotate(-90) scale(1 1.04)" text-anchor="middle" class="y">30</text><text transform="translate(32.35 573.18) rotate(-90) scale(1 1.04)" text-anchor="middle" class="y">60</text><text transform="translate(32.35 538.48) rotate(-90) scale(1 1.04)" text-anchor="middle" class="y">90</text>
<path d="M228.85 538.18V642.68" fill="none" stroke="#bebebe" stroke-width="1.1"/><path d="M228.85 642.33H395.40" fill="none" stroke="#c8c8c8" stroke-width="0.8"/><path d="M242.26 642.28h9.70" fill="none" stroke="#a8a8a8" stroke-width="0.9"/><line x1="228.55" x2="395.40" y1="594.90" y2="594.90" stroke="#000" stroke-width="1.7"/><line x1="228.50" x2="395.40" y1="634.90" y2="634.90" stroke="#000" stroke-width="1.6" stroke-dasharray="6 5.05" clip-path="url(#cp41)"/><rect x="230.80" y="578.40" width="9.55" height="63.88" fill="rgb(250,128,114)" fill-opacity="0.75" stroke="#000" stroke-opacity="0.36" stroke-width="0.8"/><rect x="253.62" y="570.40" width="9.55" height="71.88" fill="rgb(139,0,0)" fill-opacity="0.75" stroke="#000" stroke-opacity="0.36" stroke-width="0.8"/><rect x="265.03" y="565.00" width="9.55" height="77.28" fill="rgb(160,32,240)" fill-opacity="0.75" stroke="#000" stroke-opacity="0.36" stroke-width="0.8"/><rect x="276.44" y="576.10" width="9.55" height="66.18" fill="rgb(255,0,255)" fill-opacity="0.75" stroke="#000" stroke-opacity="0.36" stroke-width="0.8"/><rect x="287.85" y="639.80" width="9.55" height="2.48" fill="rgb(0,0,255)" fill-opacity="0.75" stroke="#000" stroke-opacity="0.36" stroke-width="0.8"/><rect x="299.26" y="581.20" width="9.55" height="61.08" fill="rgb(0,0,139)" fill-opacity="0.75" stroke="#000" stroke-opacity="0.36" stroke-width="0.8"/><rect x="310.67" y="545.20" width="9.55" height="97.08" fill="rgb(255,165,0)" fill-opacity="0.75" stroke="#000" stroke-opacity="0.36" stroke-width="0.8"/><rect x="322.08" y="540.70" width="9.55" height="101.58" fill="rgb(255,193,37)" fill-opacity="0.75" stroke="#000" stroke-opacity="0.36" stroke-width="0.8"/><rect x="333.49" y="639.50" width="9.55" height="2.78" fill="rgb(255,255,0)" fill-opacity="0.75" stroke="#000" stroke-opacity="0.36" stroke-width="0.8"/><rect x="344.90" y="632.70" width="9.55" height="9.58" fill="rgb(152,251,152)" fill-opacity="0.75" stroke="#000" stroke-opacity="0.36" stroke-width="0.8"/><rect x="356.31" y="597.00" width="9.55" height="45.28" fill="rgb(124,205,124)" fill-opacity="0.75" stroke="#000" stroke-opacity="0.36" stroke-width="0.8"/><rect x="367.72" y="619.20" width="9.55" height="23.08" fill="rgb(84,139,84)" fill-opacity="0.75" stroke="#000" stroke-opacity="0.36" stroke-width="0.8"/><rect x="379.13" y="607.50" width="9.55" height="34.78" fill="rgb(175,238,238)" fill-opacity="0.75" stroke="#000" stroke-opacity="0.36" stroke-width="0.8"/><text transform="translate(227.15 642.58) rotate(-90) scale(1 1.04)" text-anchor="middle" class="y">0</text><text transform="translate(227.15 607.88) rotate(-90) scale(1 1.04)" text-anchor="middle" class="y">5</text><text transform="translate(227.15 573.18) rotate(-90) scale(1 1.04)" text-anchor="middle" class="y">10</text><text transform="translate(227.15 538.48) rotate(-90) scale(1 1.04)" text-anchor="middle" class="y">15</text>
<path d="M423.65 538.18V642.68" fill="none" stroke="#bebebe" stroke-width="1.1"/><path d="M423.65 642.33H590.20" fill="none" stroke="#c8c8c8" stroke-width="0.8"/><path d="M437.06 642.28h9.70" fill="none" stroke="#a8a8a8" stroke-width="0.9"/><line x1="423.35" x2="590.20" y1="574.00" y2="574.00" stroke="#000" stroke-width="1.7"/><line x1="423.30" x2="590.20" y1="614.60" y2="614.60" stroke="#000" stroke-width="1.6" stroke-dasharray="6 5.05" clip-path="url(#cp42)"/><rect x="425.60" y="557.50" width="9.55" height="84.78" fill="rgb(250,128,114)" fill-opacity="0.75" stroke="#000" stroke-opacity="0.36" stroke-width="0.8"/><rect x="448.42" y="560.10" width="9.55" height="82.18" fill="rgb(139,0,0)" fill-opacity="0.75" stroke="#000" stroke-opacity="0.36" stroke-width="0.8"/><rect x="459.83" y="555.00" width="9.55" height="87.28" fill="rgb(160,32,240)" fill-opacity="0.75" stroke="#000" stroke-opacity="0.36" stroke-width="0.8"/><rect x="471.24" y="553.20" width="9.55" height="89.08" fill="rgb(255,0,255)" fill-opacity="0.75" stroke="#000" stroke-opacity="0.36" stroke-width="0.8"/><rect x="482.65" y="598.10" width="9.55" height="44.18" fill="rgb(0,0,255)" fill-opacity="0.75" stroke="#000" stroke-opacity="0.36" stroke-width="0.8"/><rect x="494.06" y="555.50" width="9.55" height="86.78" fill="rgb(0,0,139)" fill-opacity="0.75" stroke="#000" stroke-opacity="0.36" stroke-width="0.8"/><rect x="505.47" y="548.10" width="9.55" height="94.18" fill="rgb(255,165,0)" fill-opacity="0.75" stroke="#000" stroke-opacity="0.36" stroke-width="0.8"/><rect x="516.88" y="546.40" width="9.55" height="95.88" fill="rgb(255,193,37)" fill-opacity="0.75" stroke="#000" stroke-opacity="0.36" stroke-width="0.8"/><rect x="528.29" y="622.10" width="9.55" height="20.18" fill="rgb(255,255,0)" fill-opacity="0.75" stroke="#000" stroke-opacity="0.36" stroke-width="0.8"/><rect x="539.70" y="604.40" width="9.55" height="37.88" fill="rgb(152,251,152)" fill-opacity="0.75" stroke="#000" stroke-opacity="0.36" stroke-width="0.8"/><rect x="551.11" y="566.10" width="9.55" height="76.18" fill="rgb(124,205,124)" fill-opacity="0.75" stroke="#000" stroke-opacity="0.36" stroke-width="0.8"/><rect x="562.52" y="590.70" width="9.55" height="51.58" fill="rgb(84,139,84)" fill-opacity="0.75" stroke="#000" stroke-opacity="0.36" stroke-width="0.8"/><rect x="573.93" y="543.20" width="9.55" height="99.08" fill="rgb(175,238,238)" fill-opacity="0.75" stroke="#000" stroke-opacity="0.36" stroke-width="0.8"/><text transform="translate(421.95 642.58) rotate(-90) scale(1 1.04)" text-anchor="middle" class="y">0</text><text transform="translate(421.95 607.88) rotate(-90) scale(1 1.04)" text-anchor="middle" class="y">0.07</text><text transform="translate(421.95 573.18) rotate(-90) scale(1 1.04)" text-anchor="middle" class="y">0.14</text><text transform="translate(421.95 538.48) rotate(-90) scale(1 1.04)" text-anchor="middle" class="y">0.21</text>
<path d="M34.05 665.85V770.35" fill="none" stroke="#bebebe" stroke-width="1.1"/><path d="M34.05 770.00H200.60" fill="none" stroke="#c8c8c8" stroke-width="0.8"/><path d="M36.05 769.95h9.70M184.38 769.95h9.70" fill="none" stroke="#a8a8a8" stroke-width="0.9"/><line x1="33.75" x2="200.60" y1="733.10" y2="733.10" stroke="#000" stroke-width="1.7"/><line x1="33.70" x2="200.60" y1="764.90" y2="764.90" stroke="#000" stroke-width="1.6" stroke-dasharray="6 5.05" clip-path="url(#cp50)"/><rect x="47.41" y="762.10" width="9.55" height="7.85" fill="rgb(255,0,0)" fill-opacity="0.75" stroke="#000" stroke-opacity="0.36" stroke-width="0.8"/><rect x="58.82" y="738.10" width="9.55" height="31.85" fill="rgb(139,0,0)" fill-opacity="0.75" stroke="#000" stroke-opacity="0.36" stroke-width="0.8"/><rect x="70.23" y="727.80" width="9.55" height="42.15" fill="rgb(160,32,240)" fill-opacity="0.75" stroke="#000" stroke-opacity="0.36" stroke-width="0.8"/><rect x="81.64" y="724.40" width="9.55" height="45.55" fill="rgb(255,0,255)" fill-opacity="0.75" stroke="#000" stroke-opacity="0.36" stroke-width="0.8"/><rect x="93.05" y="762.40" width="9.55" height="7.55" fill="rgb(0,0,255)" fill-opacity="0.75" stroke="#000" stroke-opacity="0.36" stroke-width="0.8"/><rect x="104.46" y="735.80" width="9.55" height="34.15" fill="rgb(0,0,139)" fill-opacity="0.75" stroke="#000" stroke-opacity="0.36" stroke-width="0.8"/><rect x="115.87" y="692.50" width="9.55" height="77.45" fill="rgb(255,165,0)" fill-opacity="0.75" stroke="#000" stroke-opacity="0.36" stroke-width="0.8"/><rect x="127.28" y="755.50" width="9.55" height="14.45" fill="rgb(255,193,37)" fill-opacity="0.75" stroke="#000" stroke-opacity="0.36" stroke-width="0.8"/><rect x="138.69" y="676.10" width="9.55" height="93.85" fill="rgb(255,255,0)" fill-opacity="0.75" stroke="#000" stroke-opacity="0.36" stroke-width="0.8"/><rect x="150.10" y="744.70" width="9.55" height="25.25" fill="rgb(152,251,152)" fill-opacity="0.75" stroke="#000" stroke-opacity="0.36" stroke-width="0.8"/><rect x="161.51" y="667.20" width="9.55" height="102.75" fill="rgb(124,205,124)" fill-opacity="0.75" stroke="#000" stroke-opacity="0.36" stroke-width="0.8"/><rect x="172.92" y="736.40" width="9.55" height="33.55" fill="rgb(84,139,84)" fill-opacity="0.75" stroke="#000" stroke-opacity="0.36" stroke-width="0.8"/><text transform="translate(32.35 770.25) rotate(-90) scale(1 1.04)" text-anchor="middle" class="y">0</text><text transform="translate(32.35 735.55) rotate(-90) scale(1 1.04)" text-anchor="middle" class="y">80</text><text transform="translate(32.35 700.85) rotate(-90) scale(1 1.04)" text-anchor="middle" class="y">160</text><text transform="translate(32.35 666.15) rotate(-90) scale(1 1.04)" text-anchor="middle" class="y">240</text>
<path d="M228.85 665.85V770.35" fill="none" stroke="#bebebe" stroke-width="1.1"/><path d="M228.85 770.00H395.40" fill="none" stroke="#c8c8c8" stroke-width="0.8"/><path d="M230.85 769.95h9.70M379.18 769.95h9.70" fill="none" stroke="#a8a8a8" stroke-width="0.9"/><line x1="228.55" x2="395.40" y1="733.10" y2="733.10" stroke="#000" stroke-width="1.7"/><line x1="228.50" x2="395.40" y1="766.60" y2="766.60" stroke="#000" stroke-width="1.6" stroke-dasharray="6 5.05" clip-path="url(#cp51)"/><rect x="242.21" y="761.20" width="9.55" height="8.75" fill="rgb(255,0,0)" fill-opacity="0.75" stroke="#000" stroke-opacity="0.36" stroke-width="0.8"/><rect x="253.62" y="722.40" width="9.55" height="47.55" fill="rgb(139,0,0)" fill-opacity="0.75" stroke="#000" stroke-opacity="0.36" stroke-width="0.8"/><rect x="265.03" y="728.40" width="9.55" height="41.55" fill="rgb(160,32,240)" fill-opacity="0.75" stroke="#000" stroke-opacity="0.36" stroke-width="0.8"/><rect x="276.44" y="684.40" width="9.55" height="85.55" fill="rgb(255,0,255)" fill-opacity="0.75" stroke="#000" stroke-opacity="0.36" stroke-width="0.8"/><rect x="287.85" y="764.10" width="9.55" height="5.85" fill="rgb(0,0,255)" fill-opacity="0.75" stroke="#000" stroke-opacity="0.36" stroke-width="0.8"/><rect x="299.26" y="743.20" width="9.55" height="26.75" fill="rgb(0,0,139)" fill-opacity="0.75" stroke="#000" stroke-opacity="0.36" stroke-width="0.8"/><rect x="310.67" y="691.50" width="9.55" height="78.45" fill="rgb(255,165,0)" fill-opacity="0.75" stroke="#000" stroke-opacity="0.36" stroke-width="0.8"/><rect x="322.08" y="757.50" width="9.55" height="12.45" fill="rgb(255,193,37)" fill-opacity="0.75" stroke="#000" stroke-opacity="0.36" stroke-width="0.8"/><rect x="333.49" y="715.80" width="9.55" height="54.15" fill="rgb(255,255,0)" fill-opacity="0.75" stroke="#000" stroke-opacity="0.36" stroke-width="0.8"/><rect x="344.90" y="749.20" width="9.55" height="20.75" fill="rgb(152,251,152)" fill-opacity="0.75" stroke="#000" stroke-opacity="0.36" stroke-width="0.8"/><rect x="356.31" y="666.40" width="9.55" height="103.55" fill="rgb(124,205,124)" fill-opacity="0.75" stroke="#000" stroke-opacity="0.36" stroke-width="0.8"/><rect x="367.72" y="742.10" width="9.55" height="27.85" fill="rgb(84,139,84)" fill-opacity="0.75" stroke="#000" stroke-opacity="0.36" stroke-width="0.8"/><text transform="translate(227.15 770.25) rotate(-90) scale(1 1.04)" text-anchor="middle" class="y">0</text><text transform="translate(227.15 735.55) rotate(-90) scale(1 1.04)" text-anchor="middle" class="y">70</text><text transform="translate(227.15 700.85) rotate(-90) scale(1 1.04)" text-anchor="middle" class="y">140</text><text transform="translate(227.15 666.15) rotate(-90) scale(1 1.04)" text-anchor="middle" class="y">210</text>
<path d="M423.65 665.85V770.35" fill="none" stroke="#bebebe" stroke-width="1.1"/><path d="M423.65 770.00H590.20" fill="none" stroke="#c8c8c8" stroke-width="0.8"/><path d="M425.65 769.95h9.70M573.98 769.95h9.70" fill="none" stroke="#a8a8a8" stroke-width="0.9"/><line x1="423.35" x2="590.20" y1="722.70" y2="722.70" stroke="#000" stroke-width="1.7"/><line x1="423.30" x2="590.20" y1="733.70" y2="733.70" stroke="#000" stroke-width="1.6" stroke-dasharray="6 5.05" clip-path="url(#cp52)"/><rect x="437.01" y="704.10" width="9.55" height="65.85" fill="rgb(255,0,0)" fill-opacity="0.75" stroke="#000" stroke-opacity="0.36" stroke-width="0.8"/><rect x="448.42" y="695.20" width="9.55" height="74.75" fill="rgb(139,0,0)" fill-opacity="0.75" stroke="#000" stroke-opacity="0.36" stroke-width="0.8"/><rect x="459.83" y="701.50" width="9.55" height="68.45" fill="rgb(160,32,240)" fill-opacity="0.75" stroke="#000" stroke-opacity="0.36" stroke-width="0.8"/><rect x="471.24" y="670.40" width="9.55" height="99.55" fill="rgb(255,0,255)" fill-opacity="0.75" stroke="#000" stroke-opacity="0.36" stroke-width="0.8"/><rect x="482.65" y="723.20" width="9.55" height="46.75" fill="rgb(0,0,255)" fill-opacity="0.75" stroke="#000" stroke-opacity="0.36" stroke-width="0.8"/><rect x="494.06" y="738.40" width="9.55" height="31.55" fill="rgb(0,0,139)" fill-opacity="0.75" stroke="#000" stroke-opacity="0.36" stroke-width="0.8"/><rect x="505.47" y="693.20" width="9.55" height="76.75" fill="rgb(255,165,0)" fill-opacity="0.75" stroke="#000" stroke-opacity="0.36" stroke-width="0.8"/><rect x="516.88" y="733.80" width="9.55" height="36.15" fill="rgb(255,193,37)" fill-opacity="0.75" stroke="#000" stroke-opacity="0.36" stroke-width="0.8"/><rect x="528.29" y="737.50" width="9.55" height="32.45" fill="rgb(255,255,0)" fill-opacity="0.75" stroke="#000" stroke-opacity="0.36" stroke-width="0.8"/><rect x="539.70" y="725.50" width="9.55" height="44.45" fill="rgb(152,251,152)" fill-opacity="0.75" stroke="#000" stroke-opacity="0.36" stroke-width="0.8"/><rect x="551.11" y="723.20" width="9.55" height="46.75" fill="rgb(124,205,124)" fill-opacity="0.75" stroke="#000" stroke-opacity="0.36" stroke-width="0.8"/><rect x="562.52" y="729.80" width="9.55" height="40.15" fill="rgb(84,139,84)" fill-opacity="0.75" stroke="#000" stroke-opacity="0.36" stroke-width="0.8"/><text transform="translate(421.95 770.25) rotate(-90) scale(1 1.04)" text-anchor="middle" class="y">0</text><text transform="translate(421.95 735.55) rotate(-90) scale(1 1.04)" text-anchor="middle" class="y">0.8</text><text transform="translate(421.95 700.85) rotate(-90) scale(1 1.04)" text-anchor="middle" class="y">1.6</text><text transform="translate(421.95 666.15) rotate(-90) scale(1 1.04)" text-anchor="middle" class="y">2.4</text>
<text transform="translate(9.8 79.55) rotate(-90)" text-anchor="middle" class="r">Amplero</text>
<text transform="translate(9.8 207.22) rotate(-90)" text-anchor="middle" class="r">Blodgett</text>
<text transform="translate(9.8 334.89) rotate(-90)" text-anchor="middle" class="r">Espirra</text>
<text transform="translate(9.8 462.56) rotate(-90)" text-anchor="middle" class="r">Howard Springs</text>
<text transform="translate(9.8 590.23) rotate(-90)" text-anchor="middle" class="r">Mopane</text>
<text transform="translate(9.8 717.90) rotate(-90)" text-anchor="middle" class="r">Palang</text>
<text x="115.00" y="10.4" text-anchor="middle" class="h">a) Duration</text>
<text x="309.80" y="10.4" text-anchor="middle" class="h">b) Magnitude</text>
<text x="504.60" y="10.4" text-anchor="middle" class="h">c) Intensity</text>
<text transform="translate(44.00 771.8) rotate(-90) scale(1 1.10)" text-anchor="end" class="t">CABLE−SLI</text>
<text transform="translate(55.41 771.8) rotate(-90) scale(1 1.10)" text-anchor="end" class="t">CABLE−GW</text>
<text transform="translate(66.82 771.8) rotate(-90) scale(1 1.10)" text-anchor="end" class="t">CABLE−2.0</text>
<text transform="translate(78.23 771.8) rotate(-90) scale(1 1.10)" text-anchor="end" class="t">CHTESSEL</text>
<text transform="translate(89.64 771.8) rotate(-90) scale(1 1.10)" text-anchor="end" class="t">COLASSiB.2.0</text>
<text transform="translate(101.05 771.8) rotate(-90) scale(1 1.10)" text-anchor="end" class="t">ISBA−dif</text>
<text transform="translate(112.46 771.8) rotate(-90) scale(1 1.10)" text-anchor="end" class="t">ISBA−3L</text>
<text transform="translate(123.87 771.8) rotate(-90) scale(1 1.10)" text-anchor="end" class="t">JULES−3.1</text>
<text transform="translate(135.28 771.8) rotate(-90) scale(1 1.10)" text-anchor="end" class="t">JULES−altP</text>
<text transform="translate(146.69 771.8) rotate(-90) scale(1 1.10)" text-anchor="end" class="t">Mosaic</text>
<text transform="translate(158.10 771.8) rotate(-90) scale(1 1.10)" text-anchor="end" class="t">NOAH 2.7</text>
<text transform="translate(169.51 771.8) rotate(-90) scale(1 1.10)" text-anchor="end" class="t">NOAH 3.2</text>
<text transform="translate(180.92 771.8) rotate(-90) scale(1 1.10)" text-anchor="end" class="t">NOAH 3.3</text>
<text transform="translate(192.33 771.8) rotate(-90) scale(1 1.10)" text-anchor="end" class="t">ORCHIDEE</text>
<text transform="translate(238.80 771.8) rotate(-90) scale(1 1.10)" text-anchor="end" class="t">CABLE−SLI</text>
<text transform="translate(250.21 771.8) rotate(-90) scale(1 1.10)" text-anchor="end" class="t">CABLE−GW</text>
<text transform="translate(261.62 771.8) rotate(-90) scale(1 1.10)" text-anchor="end" class="t">CABLE−2.0</text>
<text transform="translate(273.03 771.8) rotate(-90) scale(1 1.10)" text-anchor="end" class="t">CHTESSEL</text>
<text transform="translate(284.44 771.8) rotate(-90) scale(1 1.10)" text-anchor="end" class="t">COLASSiB.2.0</text>
<text transform="translate(295.85 771.8) rotate(-90) scale(1 1.10)" text-anchor="end" class="t">ISBA−dif</text>
<text transform="translate(307.26 771.8) rotate(-90) scale(1 1.10)" text-anchor="end" class="t">ISBA−3L</text>
<text transform="translate(318.67 771.8) rotate(-90) scale(1 1.10)" text-anchor="end" class="t">JULES−3.1</text>
<text transform="translate(330.08 771.8) rotate(-90) scale(1 1.10)" text-anchor="end" class="t">JULES−altP</text>
<text transform="translate(341.49 771.8) rotate(-90) scale(1 1.10)" text-anchor="end" class="t">Mosaic</text>
<text transform="translate(352.90 771.8) rotate(-90) scale(1 1.10)" text-anchor="end" class="t">NOAH 2.7</text>
<text transform="translate(364.31 771.8) rotate(-90) scale(1 1.10)" text-anchor="end" class="t">NOAH 3.2</text>
<text transform="translate(375.72 771.8) rotate(-90) scale(1 1.10)" text-anchor="end" class="t">NOAH 3.3</text>
<text transform="translate(387.13 771.8) rotate(-90) scale(1 1.10)" text-anchor="end" class="t">ORCHIDEE</text>
<text transform="translate(433.60 771.8) rotate(-90) scale(1 1.10)" text-anchor="end" class="t">CABLE−SLI</text>
<text transform="translate(445.01 771.8) rotate(-90) scale(1 1.10)" text-anchor="end" class="t">CABLE−GW</text>
<text transform="translate(456.42 771.8) rotate(-90) scale(1 1.10)" text-anchor="end" class="t">CABLE−2.0</text>
<text transform="translate(467.83 771.8) rotate(-90) scale(1 1.10)" text-anchor="end" class="t">CHTESSEL</text>
<text transform="translate(479.24 771.8) rotate(-90) scale(1 1.10)" text-anchor="end" class="t">COLASSiB.2.0</text>
<text transform="translate(490.65 771.8) rotate(-90) scale(1 1.10)" text-anchor="end" class="t">ISBA−dif</text>
<text transform="translate(502.06 771.8) rotate(-90) scale(1 1.10)" text-anchor="end" class="t">ISBA−3L</text>
<text transform="translate(513.47 771.8) rotate(-90) scale(1 1.10)" text-anchor="end" class="t">JULES−3.1</text>
<text transform="translate(524.88 771.8) rotate(-90) scale(1 1.10)" text-anchor="end" class="t">JULES−altP</text>
<text transform="translate(536.29 771.8) rotate(-90) scale(1 1.10)" text-anchor="end" class="t">Mosaic</text>
<text transform="translate(547.70 771.8) rotate(-90) scale(1 1.10)" text-anchor="end" class="t">NOAH 2.7</text>
<text transform="translate(559.11 771.8) rotate(-90) scale(1 1.10)" text-anchor="end" class="t">NOAH 3.2</text>
<text transform="translate(570.52 771.8) rotate(-90) scale(1 1.10)" text-anchor="end" class="t">NOAH 3.3</text>
<text transform="translate(581.93 771.8) rotate(-90) scale(1 1.10)" text-anchor="end" class="t">ORCHIDEE</text>
</svg>
</body></html>
